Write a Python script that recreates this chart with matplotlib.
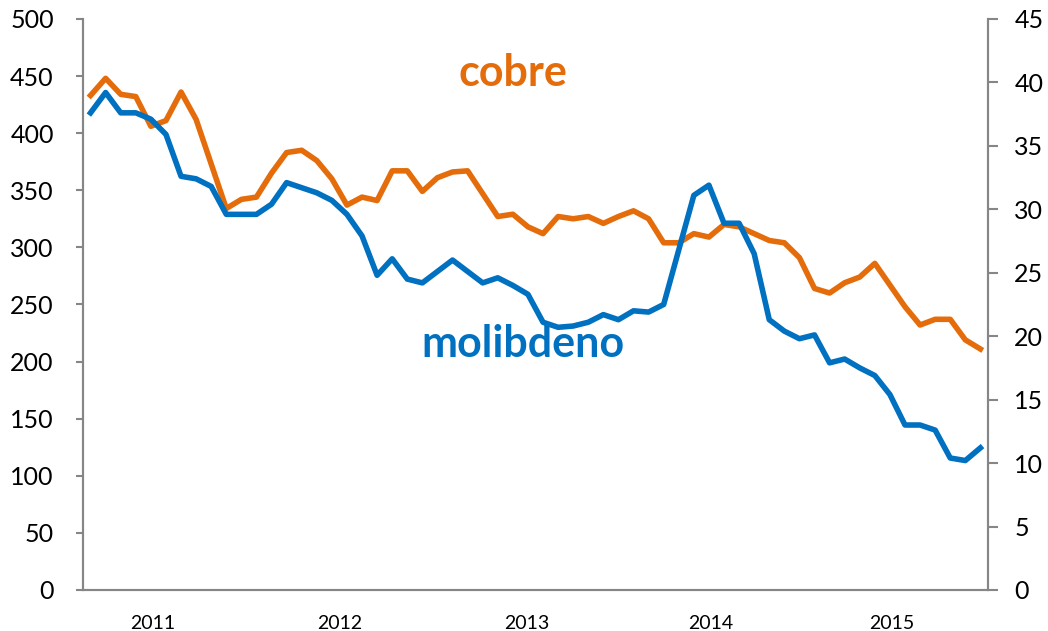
import matplotlib.pyplot as plt

# monthly, Sep 2010 .. Aug 2015
cobre = [433, 448, 434, 432, 406, 411, 436, 412, 373, 334,
         342, 344, 365, 383, 385, 376, 360, 337, 344, 341,
         367, 367, 349, 361, 366, 367, 347, 327, 329, 318,
         312, 327, 325, 327, 321, 327, 332, 325, 304, 304,
         312, 309, 320, 318, 312, 306, 304, 291, 264, 260,
         269, 274, 286, 267, 248, 232, 237, 237, 219, 211]
molibdeno = [37.6, 39.2, 37.6, 37.6, 37.1, 35.9, 32.6, 32.4, 31.8, 29.6,
             29.6, 29.6, 30.4, 32.1, 31.7, 31.3, 30.7, 29.6, 27.9, 24.8,
             26.1, 24.5, 24.2, 25.1, 26.0, 25.1, 24.2, 24.6, 24.0, 23.3,
             21.1, 20.7, 20.8, 21.1, 21.7, 21.3, 22.0, 21.9, 22.5, 26.8,
             31.1, 31.9, 28.9, 28.9, 26.5, 21.3, 20.4, 19.8, 20.1, 17.9,
             18.2, 17.5, 16.9, 15.4, 13.0, 13.0, 12.6, 10.4, 10.2, 11.2]
year_labels = ["2011", "2012", "2013", "2014", "2015"]
year_pos = [4.1, 16.5, 28.9, 41.1, 53.1]

orange = "#E46C0A"
blue = "#0070C0"
gray = "#868686"
font = "Lato"

x = list(range(len(cobre)))

fig = plt.figure(figsize=(10.48, 6.31), dpi=100)
ax = fig.add_axes([0.0792, 0.065, 0.8635, 0.905])
ax2 = ax.twinx()

ax.plot(x, cobre, color=orange, lw=4, solid_joinstyle="round")
ax2.plot(x, molibdeno, color=blue, lw=4, solid_joinstyle="round")

ax.set_xlim(-0.5, len(cobre) - 0.5)
ax.set_ylim(0, 500)
ax2.set_ylim(0, 45)
ax.set_yticks(range(0, 501, 50))
ax2.set_yticks(range(0, 46, 5))
ax.set_xticks(year_pos)
ax.set_xticklabels(year_labels)

for a in (ax, ax2):
    a.spines["top"].set_visible(False)
    for s in ("left", "right", "bottom"):
        a.spines[s].set_color(gray)
        a.spines[s].set_linewidth(1.5)
    for lab in a.get_yticklabels():
        lab.set_family(font)
ax.tick_params(axis="y", colors=gray, labelcolor="black", length=5, width=1.5,
               labelsize=18, pad=16)
ax2.tick_params(axis="y", colors=gray, labelcolor="black", length=7, width=1.5,
                labelsize=18, pad=12)
ax.tick_params(axis="x", length=0, labelsize=14, pad=18)
for lab in ax.get_xticklabels():
    lab.set_family(font)

ax.text(0.475, 0.905, "cobre", transform=ax.transAxes, color=orange,
        fontsize=31, fontweight="bold", family=font, ha="center", va="center")
ax.text(0.486, 0.43, "molibdeno", transform=ax.transAxes, color=blue,
        fontsize=31, fontweight="bold", family=font, ha="center", va="center")

fig.savefig("out.png", dpi=100)
